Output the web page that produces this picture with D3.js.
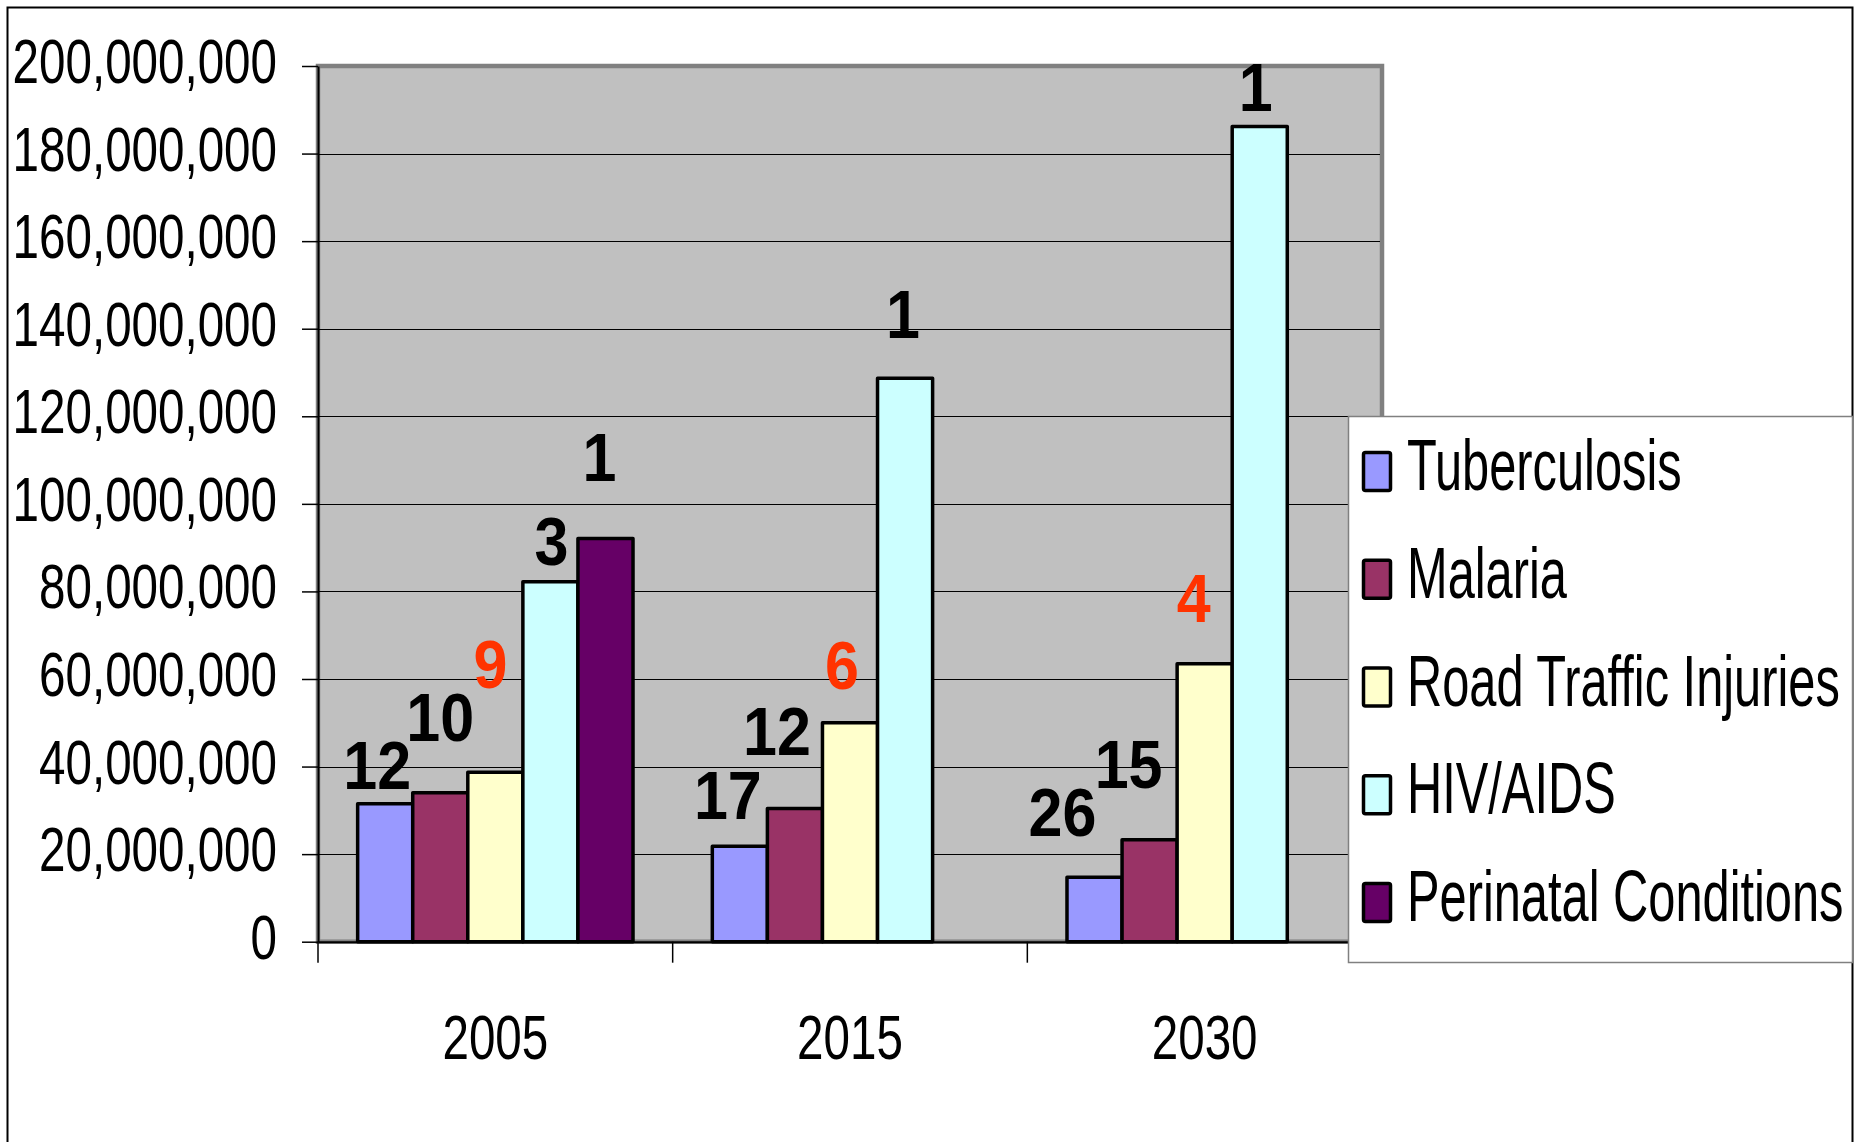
<!DOCTYPE html>
<html>
<head>
<meta charset="utf-8">
<script src="https://cdn.jsdelivr.net/npm/d3@7"></script>
<style>
  body { margin: 0; background: #fff; }
  svg { display: block; }
</style>
</head>
<body>
<svg width="1871" height="1142"></svg>
<script>
// data
var years = ["2005", "2015", "2030"];
var diseases = ["Tuberculosis", "Malaria", "Road Traffic Injuries", "HIV/AIDS", "Perinatal Conditions"];
var tuberculosis = [31500000, 21800000, 14700000];
var malaria      = [34000000, 30400000, 23300000];
var roadTraffic  = [38700000, 50000000, 63500000];
var hivAids      = [82200000, 128700000, 186200000];
var perinatal    = [92100000, null, null];
// rank labels drawn above the bars
var tbRanks        = [12, 17, 26];
var malariaRanks   = [10, 12, 15];
var roadRanks      = [9, 6, 4];
var hivRanks       = [3, 1, 1];
var perinatalRanks = [1, null, null];
var yTicks = [0, 20000000, 40000000, 60000000, 80000000, 100000000, 120000000, 140000000, 160000000, 180000000, 200000000];

var colors = ["#9999ff", "#993366", "#ffffcc", "#ccffff", "#660066"];
var labelColors = ["#000", "#000", "#ff3300", "#000", "#000"];
// hand placed label offsets [dx, lift above bar top] per series, per year
var labelNudge = [
  [[-8, 15], [-12, 27], [-32, 41]],
  [[0, 52], [-18, 54], [-21, 52]],
  [[-5, 84], [-8, 34], [-11, 42]],
  [[1, 17], [-2, 40], [-4, 15]],
  [[-6, 57], [0, 0], [0, 0]]
];

var series = [tuberculosis, malaria, roadTraffic, hivAids, perinatal];
var ranks = [tbRanks, malariaRanks, roadRanks, hivRanks, perinatalRanks];

var svg = d3.select("svg");

// narrow font check
function hasFont(name) {
  var c = document.createElement("canvas").getContext("2d");
  c.font = "40px monospace";
  var a = c.measureText("200,000,000 Road").width;
  c.font = "40px '" + name + "', monospace";
  return c.measureText("200,000,000 Road").width !== a;
}
var narrowOk = hasFont("Liberation Sans Narrow");
var narrowFamily = narrowOk ? "'Liberation Sans Narrow', 'Arial Narrow', sans-serif" : "'Liberation Sans', Arial, sans-serif";
var sx = narrowOk ? 1 : 0.82;

function narrowText(parent, x, y, str, size, anchor, sy) {
  return parent.append("text")
      .attr("transform", "translate(" + x + "," + y + ") scale(" + sx + "," + (sy || 1) + ")")
      .attr("text-anchor", anchor)
      .style("font-family", narrowFamily)
      .style("font-size", size + "px")
      .style("fill", "#000")
      .text(str);
}

var plotLeft = 318, plotRight = 1382, plotTop = 66, plotBottom = 941.7;

var x = d3.scaleBand().domain(years).range([plotLeft, plotRight]).paddingInner(0).paddingOuter(0);
var x1 = d3.scaleBand().domain(d3.range(diseases.length)).range([0, x.bandwidth()])
    .paddingInner(0).paddingOuter(0.72);
var y = d3.scaleLinear().domain([0, 200000000]).range([plotBottom, plotTop]);

// outer frame
svg.append("rect")
    .attr("x", 7.5).attr("y", 7.5)
    .attr("width", 1845).attr("height", 1200)
    .style("fill", "none").style("stroke", "#000").style("stroke-width", 2);

// plot area
svg.append("rect")
    .attr("x", plotLeft).attr("y", plotTop)
    .attr("width", plotRight - plotLeft).attr("height", plotBottom - plotTop)
    .style("fill", "#c0c0c0").style("stroke", "#808080").style("stroke-width", 4.5);

// gridlines
svg.append("g").selectAll("line")
    .data(yTicks.slice(1, -1))
    .enter().append("line")
    .attr("x1", plotLeft).attr("x2", plotRight - 2)
    .attr("y1", function(d) { return Math.round(y(d)) + 0.5; })
    .attr("y2", function(d) { return Math.round(y(d)) + 0.5; })
    .style("stroke", "#000").style("stroke-width", 1);

// y axis
var yAxis = svg.append("g")
    .attr("transform", "translate(" + plotLeft + ",0)")
    .call(d3.axisLeft(y).tickValues(yTicks).tickSize(16).tickSizeOuter(0).tickFormat(""));
yAxis.select(".domain").style("stroke", "#000").style("stroke-width", 2);
yAxis.selectAll(".tick line").style("stroke", "#000").style("stroke-width", 1.5);

yTicks.forEach(function(t) {
  narrowText(svg, 277, y(t) + 17, d3.format(",")(t), 58, "end", 1.1);
});

// x axis
var xAxis = svg.append("g")
    .attr("transform", "translate(0," + plotBottom + ")")
    .call(d3.axisBottom(x).tickSize(0).tickFormat(""));
xAxis.select(".domain").style("stroke", "#000").style("stroke-width", 2);
xAxis.selectAll(".boundary")
    .data(years.concat(["end"]))
    .enter().append("line")
    .attr("class", "boundary")
    .attr("x1", function(d, i) { return i < years.length ? x(d) : plotRight; })
    .attr("x2", function(d, i) { return i < years.length ? x(d) : plotRight; })
    .attr("y1", 0).attr("y2", 21)
    .style("stroke", "#000").style("stroke-width", 1.5);

years.forEach(function(yr) {
  narrowText(svg, x(yr) + x.bandwidth() / 2, 1059, yr, 58, "middle", 1.1);
});

// bars
var groups = svg.append("g").selectAll("g")
    .data(years)
    .enter().append("g")
    .attr("transform", function(d) { return "translate(" + x(d) + ",0)"; });

groups.selectAll("rect")
    .data(function(d, j) {
      return series.map(function(s, i) { return {i: i, j: j, v: s[j]}; })
        .filter(function(e) { return e.v != null; });
    })
    .enter().append("rect")
    .attr("x", function(d) { return x1(d.i); })
    .attr("y", function(d) { return y(d.v); })
    .attr("width", x1.bandwidth())
    .attr("height", function(d) { return plotBottom - y(d.v); })
    .style("fill", function(d) { return colors[d.i]; })
    .style("stroke", "#000")
    .style("stroke-width", 3.5)
    .style("stroke-linejoin", "round");

// rank labels
groups.selectAll("text.rank")
    .data(function(d, j) {
      return series.map(function(s, i) { return {i: i, j: j, v: s[j], r: ranks[i][j]}; })
        .filter(function(e) { return e.r != null; });
    })
    .enter().append("text")
    .attr("class", "rank")
    .attr("transform", function(d) {
      var lx = x1(d.i) + x1.bandwidth() / 2 + labelNudge[d.i][d.j][0];
      var ly = y(d.v) - labelNudge[d.i][d.j][1];
      return "translate(" + lx + "," + ly + ") scale(1,1.13)";
    })
    .attr("text-anchor", "middle")
    .style("font-family", "'Liberation Sans', Arial, sans-serif")
    .style("font-weight", "bold")
    .style("font-size", "61px")
    .style("fill", function(d) { return labelColors[d.i]; })
    .text(function(d) { return d.r; });

// legend
var legend = svg.append("g");
legend.append("rect")
    .attr("x", 1348.5).attr("y", 416.5)
    .attr("width", 504).attr("height", 546)
    .style("fill", "#fff").style("stroke", "#808080").style("stroke-width", 1.5);

var rowY = d3.scalePoint().domain(diseases).range([471.5, 902.5]);

diseases.forEach(function(name, i) {
  var cy = rowY(name);
  legend.append("rect")
      .attr("x", 1363.5).attr("y", cy - 19)
      .attr("width", 27).attr("height", 38)
      .attr("rx", 2)
      .style("fill", colors[i]).style("stroke", "#000").style("stroke-width", 3.5);
  narrowText(legend, 1407, cy + 18.5, name, 59.5, "start", 1.2);
});
</script>
</body>
</html>
